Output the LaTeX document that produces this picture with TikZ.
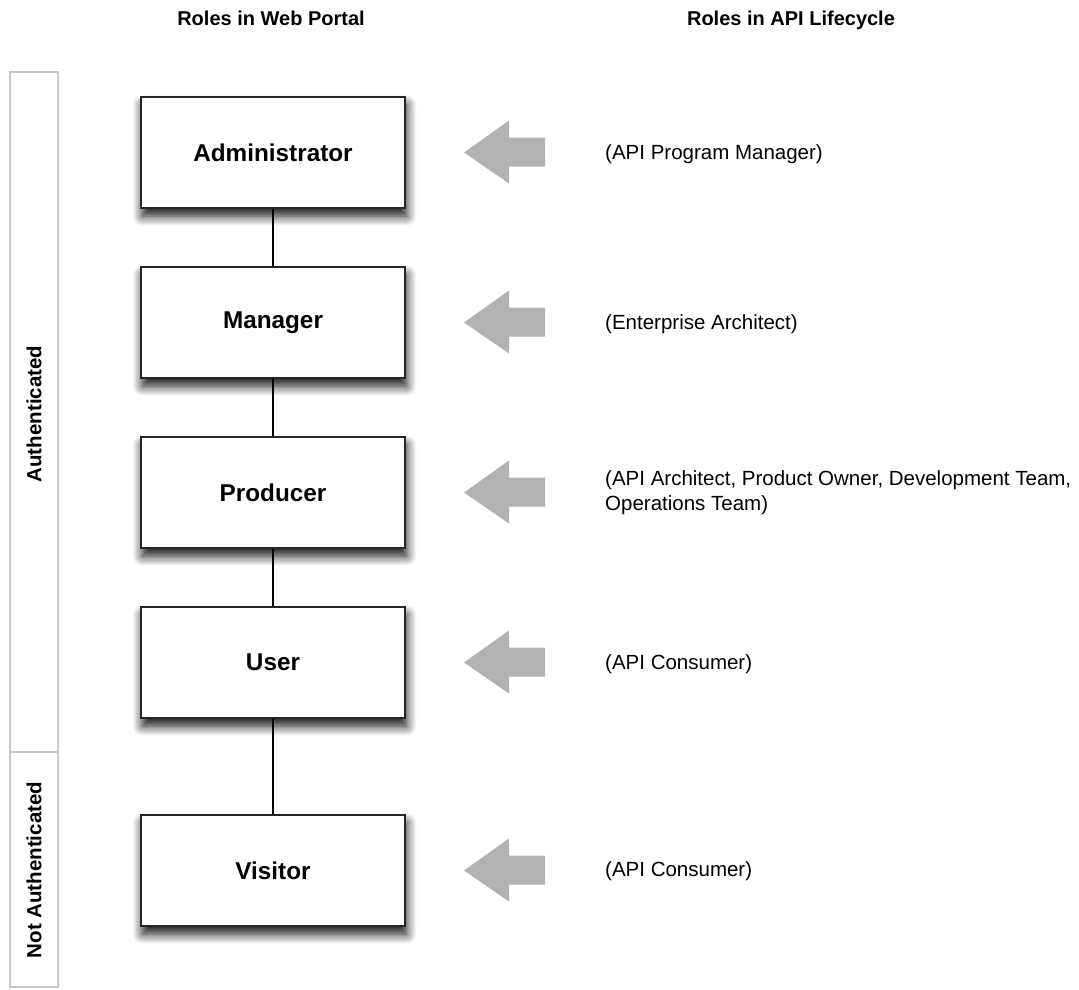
\documentclass[tikz,border=0pt]{standalone}
\usepackage{fontspec}
\setmainfont{Liberation Sans}
\usetikzlibrary{shadows.blur}
\begin{document}
\begin{tikzpicture}[x=1pt,y=-1pt,
  role/.style={draw=black!85, line width=1.6pt, fill=white,
    minimum width=264pt, minimum height=111pt, inner sep=0pt,
    font=\bfseries\fontsize{24.3}{28}\selectfont,
    blur shadow={shadow xshift=1.5pt, shadow yshift=-8pt, shadow blur radius=10pt, shadow blur steps=10, shadow opacity=95}},
  header/.style={font=\bfseries\fontsize{20}{24}\selectfont, inner sep=0pt, anchor=base},
  lifecycle/.style={font=\fontsize{20.5}{25}\selectfont, anchor=west, align=left, inner sep=0pt},
  group/.style={draw=black!22, line width=1.5pt},
  grouplabel/.style={font=\bfseries\fontsize{20.5}{24}\selectfont, rotate=90, inner sep=0pt},
  link/.style={draw=black, line width=1.5pt},
  bigarrow/.style={fill=black!30, draw=none}
]
\useasboundingbox (0,0) rectangle (1079,989);

% headers
\node[header] (h1) at (271,25) {Roles in Web Portal};
\node[header] (h2) at (791,25) {Roles in API Lifecycle};

% group bar
\draw[group] (10,72) rectangle (58,752);
\draw[group] (10,752) rectangle (58,987);
\node[grouplabel] (auth) at (34,414) {Authenticated};
\node[grouplabel] (nauth) at (34,870) {Not Authenticated};

% role boxes
\node[role] (admin) at (273,152.5) {Administrator};
\node[role] (manager) at (273,322.5) {Manager};
\node[role] (producer) at (273,492.5) {Producer};
\node[role] (user) at (273,662.5) {User};
\node[role] (visitor) at (273,870.5) {Visitor};

% connectors
\draw[link] (admin.south) -- (manager.north);
\draw[link] (manager.south) -- (producer.north);
\draw[link] (producer.south) -- (user.north);
\draw[link] (user.south) -- (visitor.north);

% arrows
\foreach \yy in {152.5,322.5,492.5,662.5,870.5}{
  \fill[bigarrow] (464,\yy) -- (509,\yy-32) -- (509,\yy-15) -- (545,\yy-15)
     -- (545,\yy+14) -- (509,\yy+14) -- (509,\yy+31) -- cycle;
}

% lifecycle texts
\node[lifecycle] (t1) at (605,154) {(API Program Manager)};
\node[lifecycle] (t2) at (605,324) {(Enterprise Architect)};
\node[lifecycle] (t3) at (605,493) {(API Architect, Product Owner, Development Team,\\Operations Team)};
\node[lifecycle] (t4) at (605,664) {(API Consumer)};
\node[lifecycle] (t5) at (605,871) {(API Consumer)};
\end{tikzpicture}
\end{document}
